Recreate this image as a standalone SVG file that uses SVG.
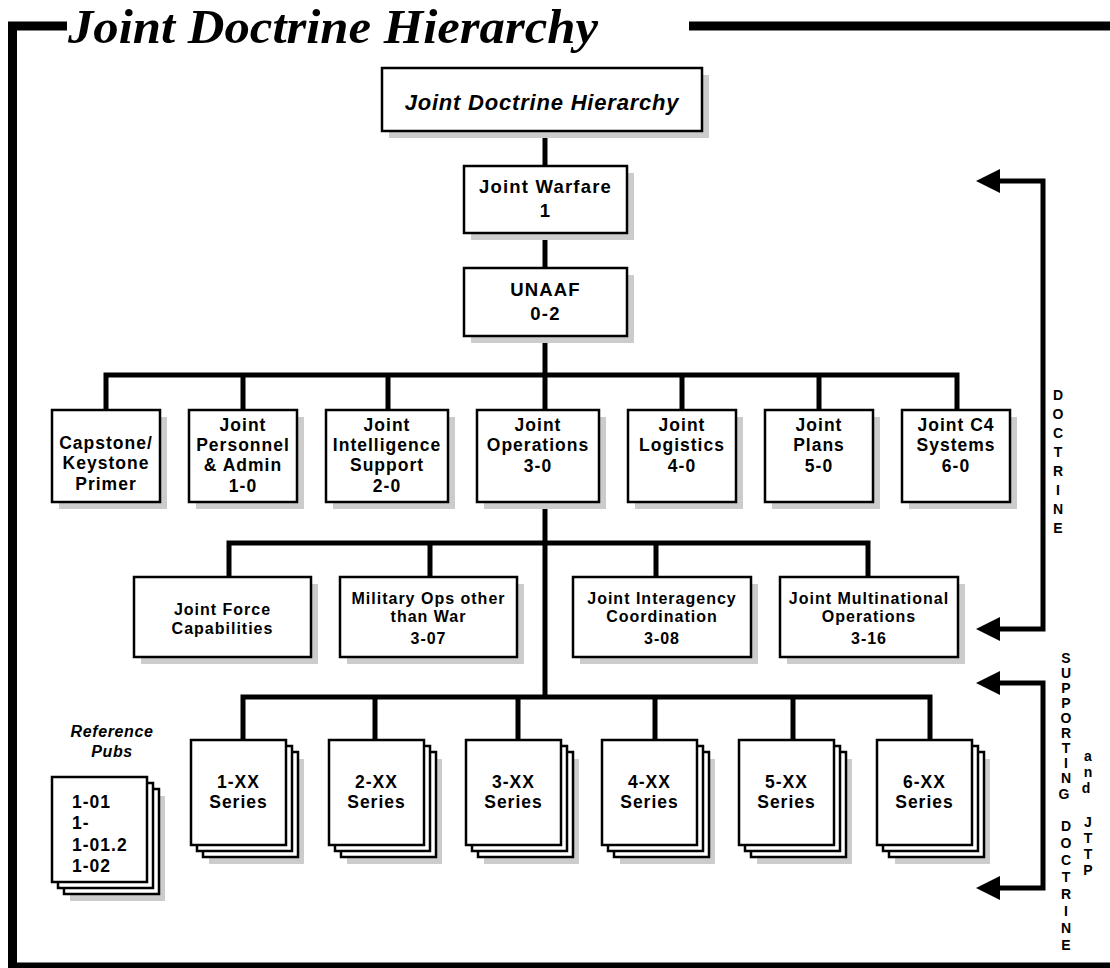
<svg xmlns="http://www.w3.org/2000/svg" xmlns:xlink="http://www.w3.org/1999/xlink" width="1110" height="968" viewBox="0 0 1110 968">
<style>
.bx{fill:#fff;stroke:#000;stroke-width:2.5}
.sh{fill:#cccccc;stroke:none}
.ln{fill:none;stroke:#000;stroke-width:5;stroke-linejoin:miter}
.fr{fill:none;stroke:#000;stroke-width:9;stroke-linejoin:miter}
.t{font-family:"Liberation Sans",Arial,sans-serif;font-weight:bold;text-anchor:middle;fill:#000;font-size:17.5px;letter-spacing:1px}
.tt{font-size:18.5px;letter-spacing:1.2px}
.t3{font-size:16px}
.ts{font-size:17.5px}
.ti{font-style:italic}
.tl{text-anchor:start}
.v{font-family:"Liberation Sans",Arial,sans-serif;font-weight:bold;text-anchor:middle;fill:#000;font-size:14px}
.title{font-family:"Liberation Serif","Times New Roman",serif;font-weight:bold;font-style:italic;font-size:48px;fill:#000}
</style>
<defs>
<marker id="ah" viewBox="0 0 24 24" markerWidth="24" markerHeight="24" markerUnits="userSpaceOnUse" refX="0" refY="12" orient="auto-start-reverse">
<path d="M0,0 L24,12 L0,24 z" fill="#000"/>
</marker>
<g id="stack">
<rect class="sh" x="18" y="19" width="95" height="105"/>
<rect class="bx" x="12" y="12" width="95" height="105"/>
<rect class="bx" x="6" y="6" width="95" height="105"/>
<rect class="bx" x="0" y="0" width="95" height="105"/>
</g>
</defs>
<rect width="1110" height="968" fill="#fff"/>

<g id="frame">
<path class="fr" d="M67 26 H12.5 V967 H1110"/>
<path class="fr" d="M689 26 H1110"/>
<text class="title" x="68" y="43" textLength="530" lengthAdjust="spacingAndGlyphs">Joint Doctrine Hierarchy</text>
</g>

<g id="connectors">
<path class="ln" d="M545 131 V166"/>
<path class="ln" d="M545 233 V268"/>
<path class="ln" d="M545 336 V410"/>
<path class="ln" d="M106 410 V375 H957 V410"/>
<path class="ln" d="M243 375 V410 M388 375 V410 M682 375 V410 M819 375 V410"/>
<path class="ln" d="M545 502 V697"/>
<path class="ln" d="M229 577 V543 H868 V577"/>
<path class="ln" d="M430 543 V577 M656 543 V577"/>
<path class="ln" d="M243 740 V697 H930 V740"/>
<path class="ln" d="M375 697 V740 M518 697 V740 M655 697 V740 M793 697 V740"/>
<path class="ln" d="M1000 181 H1043 V629 H1000" marker-start="url(#ah)" marker-end="url(#ah)"/>
<path class="ln" d="M1000 683 H1043 V888 H1000" marker-start="url(#ah)" marker-end="url(#ah)"/>
</g>

<g id="n-top">
<rect class="sh" x="389" y="75" width="320" height="63"/>
<rect class="bx" x="382" y="68" width="320" height="63"/>
<text class="t ti" x="542" y="110" style="font-size:22px;letter-spacing:0.8px">Joint Doctrine Hierarchy</text>
</g>
<g id="n-jw">
<rect class="sh" x="471" y="173" width="163" height="67"/>
<rect class="bx" x="464" y="166" width="163" height="67"/>
<text class="t tt" x="545.5" y="193">Joint Warfare</text>
<text class="t tt" x="545.5" y="217">1</text>
</g>
<g id="n-unaaf">
<rect class="sh" x="471" y="275" width="163" height="68"/>
<rect class="bx" x="464" y="268" width="163" height="68"/>
<text class="t tt" x="545.5" y="296">UNAAF</text>
<text class="t tt" x="545.5" y="320">0-2</text>
</g>

<g id="n-capstone">
<rect class="sh" x="59" y="417" width="108" height="92"/>
<rect class="bx" x="52" y="410" width="108" height="92"/>
<text class="t" x="106" y="449">Capstone/</text>
<text class="t" x="106" y="469">Keystone</text>
<text class="t" x="106" y="490">Primer</text>
</g>
<g id="n-personnel">
<rect class="sh" x="196" y="417" width="108" height="92"/>
<rect class="bx" x="189" y="410" width="108" height="92"/>
<text class="t" x="243" y="431">Joint</text>
<text class="t" x="243" y="451">Personnel</text>
<text class="t" x="243" y="471">&amp; Admin</text>
<text class="t" x="243" y="492">1-0</text>
</g>
<g id="n-intel">
<rect class="sh" x="333" y="417" width="122" height="92"/>
<rect class="bx" x="326" y="410" width="122" height="92"/>
<text class="t" x="387" y="431">Joint</text>
<text class="t" x="387" y="451">Intelligence</text>
<text class="t" x="387" y="471">Support</text>
<text class="t" x="387" y="492">2-0</text>
</g>
<g id="n-ops">
<rect class="sh" x="484" y="417" width="122" height="92"/>
<rect class="bx" x="477" y="410" width="122" height="92"/>
<text class="t" x="538" y="431">Joint</text>
<text class="t" x="538" y="451">Operations</text>
<text class="t" x="538" y="472">3-0</text>
</g>
<g id="n-log">
<rect class="sh" x="635" y="417" width="108" height="92"/>
<rect class="bx" x="628" y="410" width="108" height="92"/>
<text class="t" x="682" y="431">Joint</text>
<text class="t" x="682" y="451">Logistics</text>
<text class="t" x="682" y="472">4-0</text>
</g>
<g id="n-plans">
<rect class="sh" x="772" y="417" width="108" height="92"/>
<rect class="bx" x="765" y="410" width="108" height="92"/>
<text class="t" x="819" y="431">Joint</text>
<text class="t" x="819" y="451">Plans</text>
<text class="t" x="819" y="472">5-0</text>
</g>
<g id="n-c4">
<rect class="sh" x="909" y="417" width="108" height="92"/>
<rect class="bx" x="902" y="410" width="108" height="92"/>
<text class="t" x="956" y="431">Joint C4</text>
<text class="t" x="956" y="451">Systems</text>
<text class="t" x="956" y="472">6-0</text>
</g>

<g id="n-force">
<rect class="sh" x="141" y="584" width="177" height="80"/>
<rect class="bx" x="134" y="577" width="177" height="80"/>
<text class="t t3" x="222.5" y="615">Joint Force</text>
<text class="t t3" x="222.5" y="634">Capabilities</text>
</g>
<g id="n-mootw">
<rect class="sh" x="347" y="584" width="177" height="80"/>
<rect class="bx" x="340" y="577" width="177" height="80"/>
<text class="t t3" x="428.5" y="604">Military Ops other</text>
<text class="t t3" x="428.5" y="622">than War</text>
<text class="t t3" x="428.5" y="644">3-07</text>
</g>
<g id="n-interagency">
<rect class="sh" x="580" y="584" width="178" height="80"/>
<rect class="bx" x="573" y="577" width="178" height="80"/>
<text class="t t3" x="662" y="604">Joint Interagency</text>
<text class="t t3" x="662" y="622">Coordination</text>
<text class="t t3" x="662" y="644">3-08</text>
</g>
<g id="n-multinational">
<rect class="sh" x="787" y="584" width="178" height="80"/>
<rect class="bx" x="780" y="577" width="178" height="80"/>
<text class="t t3" x="869" y="604">Joint Multinational</text>
<text class="t t3" x="869" y="622">Operations</text>
<text class="t t3" x="869" y="644">3-16</text>
</g>

<g id="n-1xx" transform="translate(191,740)">
<use href="#stack"/>
<text class="t ts" x="47.5" y="48">1-XX</text>
<text class="t ts" x="47.5" y="68">Series</text>
</g>
<g id="n-2xx" transform="translate(329,740)">
<use href="#stack"/>
<text class="t ts" x="47.5" y="48">2-XX</text>
<text class="t ts" x="47.5" y="68">Series</text>
</g>
<g id="n-3xx" transform="translate(466,740)">
<use href="#stack"/>
<text class="t ts" x="47.5" y="48">3-XX</text>
<text class="t ts" x="47.5" y="68">Series</text>
</g>
<g id="n-4xx" transform="translate(602,740)">
<use href="#stack"/>
<text class="t ts" x="47.5" y="48">4-XX</text>
<text class="t ts" x="47.5" y="68">Series</text>
</g>
<g id="n-5xx" transform="translate(739,740)">
<use href="#stack"/>
<text class="t ts" x="47.5" y="48">5-XX</text>
<text class="t ts" x="47.5" y="68">Series</text>
</g>
<g id="n-6xx" transform="translate(877,740)">
<use href="#stack"/>
<text class="t ts" x="47.5" y="48">6-XX</text>
<text class="t ts" x="47.5" y="68">Series</text>
</g>

<g id="n-refpubs">
<text class="t ti" x="112" y="737" style="font-size:16px;letter-spacing:0.6px">Reference</text>
<text class="t ti" x="112" y="757" style="font-size:16px;letter-spacing:0.6px">Pubs</text>
<g transform="translate(52,777)">
<use href="#stack"/>
<text class="t ts tl" x="20" y="31">1-01</text>
<text class="t ts tl" x="20" y="52">1-</text>
<text class="t ts tl" x="20" y="74">1-01.2</text>
<text class="t ts tl" x="20" y="95">1-02</text>
</g>
</g>

<g id="lbl-doctrine">
<text class="v">
<tspan x="1058" y="400">D</tspan><tspan x="1058" y="419">O</tspan><tspan x="1058" y="438">C</tspan><tspan x="1058" y="457">T</tspan><tspan x="1058" y="476">R</tspan><tspan x="1058" y="495">I</tspan><tspan x="1058" y="514">N</tspan><tspan x="1058" y="533">E</tspan>
</text>
</g>
<g id="lbl-supporting">
<text class="v">
<tspan x="1066" y="663">S</tspan><tspan x="1066" y="678">U</tspan><tspan x="1066" y="693">P</tspan><tspan x="1066" y="708">P</tspan><tspan x="1066" y="723">O</tspan><tspan x="1066" y="738">R</tspan><tspan x="1066" y="753">T</tspan><tspan x="1066" y="768">I</tspan><tspan x="1066" y="783">N</tspan><tspan x="1066" y="799">G</tspan>
<tspan x="1066" y="831">D</tspan><tspan x="1066" y="848">O</tspan><tspan x="1066" y="865">C</tspan><tspan x="1066" y="882">T</tspan><tspan x="1066" y="899">R</tspan><tspan x="1066" y="916">I</tspan><tspan x="1066" y="933">N</tspan><tspan x="1066" y="950">E</tspan>
</text>
<text class="v">
<tspan x="1088" y="761">a</tspan><tspan x="1088" y="777">n</tspan><tspan x="1088" y="793">d</tspan>
<tspan x="1088" y="827">J</tspan><tspan x="1088" y="843">T</tspan><tspan x="1088" y="859">T</tspan><tspan x="1088" y="875">P</tspan>
</text>
</g>
</svg>
